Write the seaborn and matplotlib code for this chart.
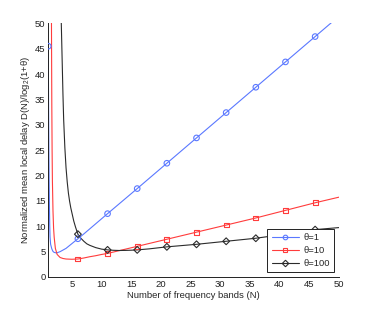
import numpy as np
import pandas as pd
import seaborn as sns
import matplotlib
matplotlib.use("Agg")
import matplotlib.pyplot as plt
from matplotlib.lines import Line2D

# ---- data ----
n_t1 = [1.0, 1.05, 1.1, 1.15, 1.2, 1.25, 1.3, 1.4, 1.6, 1.8, 2.0, 2.4, 3.0, 4.0, 5.0, 6.0,
        7.0, 8.0, 11.0, 16.0, 21.0, 26.0, 31.0, 36.0, 41.0, 46.0, 50.0]
d_t1 = [45.5, 35.0, 26.0, 19.0, 14.0, 10.2, 7.9, 6.4, 5.5, 5.0, 4.8, 4.7, 4.95, 5.6, 6.55, 7.5,
        8.45, 9.45, 12.45, 17.4, 22.4, 27.4, 32.4, 37.4, 42.4, 47.4, 51.4]

n_t10 = [1.0, 1.5, 1.55, 1.6, 1.65, 1.7, 1.8, 1.9, 2.0, 2.2, 2.5, 3.0, 3.5, 4.0, 5.0, 6.0,
         7.0, 8.0, 9.0, 10.0, 11.0, 16.0, 21.0, 26.0, 31.0, 36.0, 41.0, 46.0, 50.0]
d_t10 = [300.0, 65.0, 48.0, 34.0, 25.0, 19.0, 13.0, 9.6, 7.8, 5.6, 4.4, 3.8, 3.6, 3.5, 3.45, 3.5,
         3.7, 3.95, 4.15, 4.4, 4.6, 6.0, 7.4, 8.8, 10.2, 11.6, 13.1, 14.6, 15.7]

n_t100 = [1.0, 3.1, 3.2, 3.3, 3.48, 3.6, 3.8, 4.0, 4.2, 4.4, 4.6, 4.8, 5.05, 5.3, 5.6, 6.0,
          6.5, 7.0, 7.5, 8.0, 9.0, 10.0, 11.0, 12.0, 13.0, 14.0, 15.0, 16.0, 18.0, 21.0,
          26.0, 31.0, 36.0, 41.0, 46.0, 50.0]
d_t100 = [1000.0, 56.0, 50.0, 45.0, 36.0, 31.0, 25.5, 21.5, 18.7, 16.5, 14.9, 13.6, 12.3, 11.0, 9.8, 8.4,
          7.6, 7.0, 6.5, 6.2, 5.75, 5.45, 5.3, 5.22, 5.18, 5.2, 5.24, 5.3, 5.5, 5.9,
          6.4, 7.0, 7.6, 8.4, 9.3, 9.7]

marker_n = [1, 6, 11, 16, 21, 26, 31, 36, 41, 46]
labels = ["θ=1", "θ=10", "θ=100"]
colors = ["#5a78ff", "#ff3c3c", "#2b2b2b"]
markers = ["o", "s", "D"]
msizes = [16, 12, 12]

series = [(n_t1, d_t1), (n_t10, d_t10), (n_t100, d_t100)]

sns.set_style("white")
plt.rcParams["font.family"] = ["Liberation Sans", "DejaVu Sans"]
plt.rcParams["mathtext.fontset"] = "custom"
plt.rcParams["mathtext.rm"] = "Liberation Sans"

fig = plt.figure(figsize=(3.74, 3.12), dpi=100)
ax = fig.add_axes([0.129, 0.113, 0.777, 0.812])

for (nx, dy), lab, c, m, ms in zip(series, labels, colors, markers, msizes):
    df = pd.DataFrame({"N": nx, "D": dy})
    sns.lineplot(data=df, x="N", y="D", ax=ax, color=c, lw=0.8, legend=False,
                 sort=False, estimator=None)
    mk = df[df["N"].isin(marker_n)]
    sns.scatterplot(data=mk, x="N", y="D", ax=ax, marker=m, s=ms,
                    facecolor="none", edgecolor=c, linewidth=0.8, legend=False, zorder=3)

ax.set_xlim(1, 50)
ax.set_ylim(0, 50)
ax.set_xticks(np.arange(5, 51, 5))
ax.set_yticks(np.arange(0, 51, 5))
ax.tick_params(direction="in", length=2.5, width=0.6, labelsize=6.8, colors="#222222",
               pad=2)
for s in ["top", "right"]:
    ax.spines[s].set_visible(False)
for s in ["left", "bottom"]:
    ax.spines[s].set_color("#222222")
    ax.spines[s].set_linewidth(0.7)

ax.set_xlabel("Number of frequency bands (N)", fontsize=6.8, labelpad=1.5)
ax.set_ylabel(r"Normalized mean local delay D(N)/log$_2$(1+θ)", fontsize=6.8, labelpad=2)

handles = [Line2D([0], [0], color=c, lw=0.8, marker=m, markersize=3.3,
                  markerfacecolor="none", markeredgecolor=c, markeredgewidth=0.8)
           for c, m in zip(colors, markers)]
leg = ax.legend(handles, labels, loc="lower right", fontsize=6.8, frameon=True,
                fancybox=False, edgecolor="#222222", framealpha=1,
                handlelength=2.9, handletextpad=0.45, borderpad=0.45,
                labelspacing=0.42, borderaxespad=0,
                bbox_to_anchor=(0.983, 0.017))
leg.get_frame().set_linewidth(0.7)

fig.savefig("out.png", dpi=100, facecolor="white")
